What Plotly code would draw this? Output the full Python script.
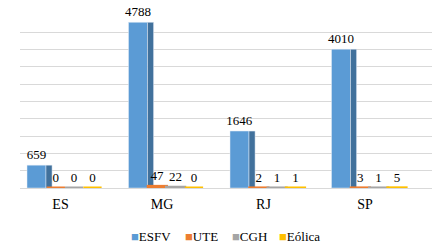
import plotly.graph_objects as go

categories = ["ES", "MG", "RJ", "SP"]
esfv = [659, 4788, 1646, 4010]
ute = [0, 47, 2, 3]
cgh = [0, 22, 1, 1]
eolica = [0, 0, 1, 5]
series_names = ["ESFV", "UTE", "CGH", "Eólica"]
colors = ["#5B9BD5", "#ED7D31", "#A5A5A5", "#FFC000"]
side_color = "#41719C"

FONT = "Times New Roman"

fig = go.Figure()

# ESFV front face
fig.add_trace(go.Bar(x=categories, y=esfv, name=series_names[0], marker_color=colors[0],
                     offset=-0.330, width=0.187, text=esfv, textposition="outside",
                     constraintext="none",
                     textfont=dict(size=13, color="#000000", family=FONT), cliponaxis=False,
                     showlegend=False))
# ESFV side face (3D look)
fig.add_trace(go.Bar(x=categories, y=esfv, marker_color=side_color,
                     offset=-0.143, width=0.06, showlegend=False, hoverinfo="skip"))

offsets = [-0.136, 0.044, 0.225]
for vals, name, col, off in zip([ute, cgh, eolica], series_names[1:], colors[1:], offsets):
    fig.add_trace(go.Bar(x=categories, y=vals, name=name,
                         marker=dict(color=col, line=dict(color=col, width=3)),
                         offset=off, width=0.18, text=vals, textposition="outside",
                         constraintext="none",
                         textfont=dict(size=13, color="#000000", family=FONT), cliponaxis=False,
                         showlegend=False))

# legend as text
legend_x = [0.2646, 0.3956, 0.5105, 0.6238]
for name, col, lx in zip(series_names, colors, legend_x):
    fig.add_annotation(x=lx, y=-0.283, xref="paper", yref="paper", xanchor="left", yanchor="middle",
                       showarrow=False,
                       text=f'<span style="color:{col}">■</span>{name}',
                       font=dict(size=13, family=FONT, color="#000000"))

fig.update_layout(
    width=437, height=247,
    margin=dict(l=20, r=5, t=15, b=59),
    barmode="overlay",
    plot_bgcolor="#FFFFFF", paper_bgcolor="#FFFFFF",
    showlegend=False,
    font=dict(family=FONT, color="#000000"),
)
fig.update_xaxes(range=[-0.399, 3.66], showgrid=False, showline=False, ticks="",
                 tickfont=dict(size=14, family=FONT), ticklabelstandoff=6)
fig.update_yaxes(range=[0, 5000], dtick=500, showticklabels=False, showgrid=True,
                 gridcolor="#D9D9D9", gridwidth=1, zeroline=True, zerolinecolor="#D9D9D9",
                 zerolinewidth=1, showline=False)

fig.write_html("out.html", post_script="document.body.style.margin='0';",
               config={"displayModeBar": False})
